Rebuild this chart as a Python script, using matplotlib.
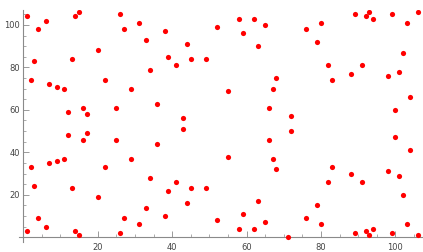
import matplotlib
matplotlib.use("Agg")
import matplotlib.pyplot as plt
from matplotlib.ticker import MultipleLocator, FixedLocator

# upper cloud of points
x_upper = [1, 2, 3, 4, 6, 7, 9, 11, 12, 13, 14, 15, 16, 17, 20, 22, 25, 26, 27, 29,
           31, 33, 34, 36, 38, 39, 41, 43, 44, 45, 49, 52, 55, 58, 59, 62, 63, 65, 66, 67,
           68, 72, 76, 79, 80, 82, 83, 88, 89, 91, 92, 93, 94, 98, 99, 100, 101, 102, 103,
           104, 106]
y_upper = [104, 74, 83, 98, 102, 72, 71, 70, 59, 84, 104, 106, 61, 58, 88, 74, 61, 105, 98, 70,
           101, 93, 79, 63, 97, 85, 81, 56, 91, 84, 84, 99, 69, 103, 96, 103, 90, 100, 61, 70,
           75, 57, 98, 92, 101, 81, 74, 77, 105, 81, 104, 106, 103, 76, 105, 60, 78, 87, 101,
           66, 106]

# lower cloud of points
x_lower = [1, 2, 3, 4, 6, 7, 9, 11, 12, 13, 14, 15, 16, 17, 20, 22, 25, 26, 27, 29,
           31, 33, 34, 36, 38, 39, 41, 43, 44, 45, 49, 52, 55, 58, 59, 62, 63, 65, 66, 67,
           68, 71, 72, 76, 79, 80, 82, 83, 88, 89, 91, 92, 93, 94, 98, 99, 100, 101, 102, 103,
           104, 106]
y_lower = [3, 33, 24, 9, 5, 35, 36, 37, 48, 23, 3, 1, 46, 49, 19, 33, 46, 2, 9, 37,
           6, 14, 28, 44, 10, 22, 26, 51, 16, 23, 23, 8, 38, 4, 11, 4, 17, 7, 46, 37,
           32, 0, 50, 9, 15, 6, 26, 33, 30, 2, 26, 3, 1, 4, 31, 2, 47, 29, 20, 6,
           41, 1]

x_ticks = [20, 40, 60, 80, 100]
y_ticks = [20, 40, 60, 80, 100]

fig = plt.figure(figsize=(4.23, 2.52), dpi=100)
ax = fig.add_axes([0.0449, 0.0409, 0.9551, 0.919])

ax.scatter(x_upper, y_upper, s=14, color="#ff0000", linewidths=0, zorder=3, clip_on=True)
ax.scatter(x_lower, y_lower, s=14, color="#ff0000", linewidths=0, zorder=3, clip_on=True)

ax.set_xlim(-1.15, 107.4)
ax.set_ylim(-2.1, 107.0)

for side in ("top", "right"):
    ax.spines[side].set_visible(False)
ax.spines["left"].set_position(("data", 0))
ax.spines["bottom"].set_position(("data", 0))
for side in ("left", "bottom"):
    ax.spines[side].set_color("#8a8a8a")
    ax.spines[side].set_linewidth(0.8)

ax.xaxis.set_major_locator(FixedLocator(x_ticks))
ax.yaxis.set_major_locator(FixedLocator(y_ticks))
ax.xaxis.set_minor_locator(MultipleLocator(5))
ax.yaxis.set_minor_locator(MultipleLocator(5))

ax.tick_params(axis="both", which="major", direction="in", length=4, width=0.6,
               color="#8a8a8a", labelsize=6, labelcolor="#444444")
ax.tick_params(axis="both", which="minor", direction="in", length=2.2, width=0.5,
               color="#8a8a8a")
ax.tick_params(axis="x", which="major", pad=4.5)
ax.tick_params(axis="y", which="major", pad=2.5)

fig.savefig("out.png", dpi=100, facecolor="white")
